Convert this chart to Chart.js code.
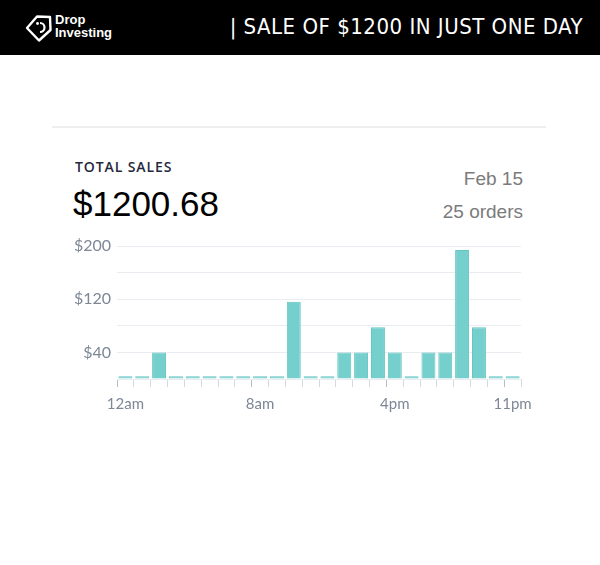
<!DOCTYPE html>
<html>
<head>
	<meta charset="UTF-8">
	<title>Total sales</title>
	<script src="https://cdn.jsdelivr.net/npm/chart.js@4.4.0/dist/chart.umd.min.js"></script>
	<style>
		body { margin:0; padding:0; overflow:hidden; background:#fff; width:600px; height:565px; position:relative; font-family:"Liberation Sans", Arial, sans-serif; }
		#top { position:absolute; left:0; top:0; width:600px; height:55px; background:#000; color:#fff; }
		#logo { position:absolute; left:25px; top:13px; }
		#brand { position:absolute; left:55px; top:13px; font:bold 13px/13px "Liberation Sans", Arial, sans-serif; }
		#headline { position:absolute; right:17px; top:13px; font:22px/28px "DejaVu Sans Condensed", "DejaVu Sans", sans-serif; letter-spacing:0.5px; }
		#rule { position:absolute; left:52px; top:126px; width:494px; height:2px; background:#eceeef; }
		#label { position:absolute; left:75px; top:157px; font:600 14px "Open Sans", sans-serif; color:#1f2a3c; letter-spacing:0.9px; }
		#total { position:absolute; left:73px; top:184px; font:35px "Liberation Sans", Arial, sans-serif; color:#000; }
		#date { position:absolute; right:77px; top:168px; font:19px "Liberation Sans", Arial, sans-serif; color:#7b7b7b; }
		#orders { position:absolute; right:77px; top:201px; font:19px "Liberation Sans", Arial, sans-serif; color:#7b7b7b; }
		#wrap { position:absolute; left:60px; top:230px; width:480px; height:191px; }
	</style>
</head>
<body>
	<div id="top">
		<svg id="logo" width="28" height="30" viewBox="0 0 28 30">
			<path d="M2 15 L12 3.5 L25 4 L25.5 17 L14 27.5 Z" fill="none" stroke="#fff" stroke-width="2.4" stroke-linejoin="round"/>
			<path d="M15 10 a4.5 4.5 0 0 1 0 9" fill="none" stroke="#fff" stroke-width="2.2"/>
			<circle cx="12.5" cy="10.5" r="1.4" fill="#fff"/>
		</svg>
		<div id="brand">Drop<br>Investing</div>
		<div id="headline">| SALE OF $1200 IN JUST ONE DAY</div>
	</div>
	<div id="rule"></div>
	<div id="label">TOTAL SALES</div>
	<div id="total">$1200.68</div>
	<div id="date">Feb 15</div>
	<div id="orders">25 orders</div>
	<div id="wrap"><canvas id="chart" width="480" height="191"></canvas></div>
	<script>
		const hours = ['12am','1am','2am','3am','4am','5am','6am','7am','8am','9am','10am','11am',
			'12pm','1pm','2pm','3pm','4pm','5pm','6pm','7pm','8pm','9pm','10pm','11pm'];
		const sales = [4, 4, 40, 4, 4, 4, 4, 4, 4, 4, 116, 4, 4, 40, 40, 78, 40, 4, 40, 40, 194, 78, 4, 4];
		const shownHours = ['12am', '8am', '4pm', '11pm'];
		const shownValues = [200, 120, 40];

		function makeChart(xs, ys){
			const ctx = document.getElementById('chart').getContext('2d');
			new Chart(ctx, {
				type: 'bar',
				data: {
					labels: xs,
					datasets: [{
						label: 'Sales',
						data: ys,
						backgroundColor: 'rgba(110, 206, 202, 0.95)',
						borderColor: '#62c4bf',
						borderWidth: 1,
						barPercentage: 0.83,
						categoryPercentage: 1
					}]
				},
				options: {
					responsive: false,
					animation: false,
					layout: { padding: { top: 16, right: 15, left: 0, bottom: 0 } },
					plugins: { legend: { display: false }, tooltip: { enabled: false } },
					scales: {
						x: {
							grid: {
								drawOnChartArea: false,
								tickLength: 8,
								tickColor: c => shownHours.includes(hours[c.index]) ? '#b9bec6' : '#d6dae0'
							},
							border: { display: false },
							ticks: {
								autoSkip: false,
								maxRotation: 0,
								padding: 8,
								color: '#7d8796',
								font: { family: 'Lato', size: 15 },
								callback: (v, i) => shownHours.includes(hours[i]) ? hours[i] : ''
							}
						},
						y: {
							min: 0,
							max: 200,
							afterFit: s => { s.width = 57; },
							border: { display: false },
							grid: { color: '#e9ecf1', drawTicks: false },
							ticks: {
								stepSize: 40,
								padding: 6,
								color: '#7d8796',
								font: { family: 'Lato', size: 16 },
								callback: v => shownValues.includes(v) ? '$' + v : ''
							}
						}
					}
				}
			});
		}

		makeChart(hours, sales);
	</script>
</body>
</html>
